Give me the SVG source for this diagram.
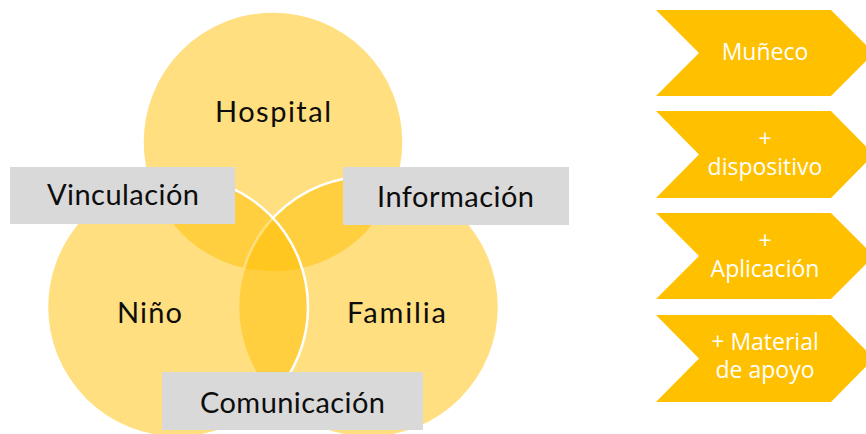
<svg xmlns="http://www.w3.org/2000/svg" width="866" height="434" viewBox="0 0 866 434">
  <style>
    .circ { fill: #FFC000; fill-opacity: 0.5; stroke: #FFFFFF; stroke-width: 2.5; }
    .box { fill: #D9D9D9; }
    .lbl { font-family: Lato, "Open Sans", sans-serif; font-size: 29px; fill: #0D0D0D; text-anchor: middle; }
    .chev { fill: #FFC000; }
    .ct { font-family: "Open Sans", "Noto Sans", sans-serif; font-size: 23px; fill: #FFFFFF; text-anchor: middle; }
  </style>
  <rect width="866" height="434" fill="#FFFFFF"/>
  <g id="venn">
    <g id="hospital">
      <circle class="circ" cx="273" cy="142" r="130.5"/>
    </g>
    <g id="familia">
      <circle class="circ" cx="368.5" cy="307" r="130.5"/>
    </g>
    <g id="nino">
      <circle class="circ" cx="177.5" cy="307" r="130.5"/>
    </g>
    <text class="lbl" x="273" y="122" textLength="116" lengthAdjust="spacing">Hospital</text>
    <text class="lbl" x="149.5" y="323" textLength="65" lengthAdjust="spacing">Niño</text>
    <text class="lbl" x="396.5" y="323" textLength="99" lengthAdjust="spacing">Familia</text>
  </g>
  <g id="vinculacion">
    <rect class="box" x="10" y="167" width="225" height="57"/>
    <text class="lbl" x="123" y="205" textLength="152" lengthAdjust="spacing">Vinculación</text>
  </g>
  <g id="informacion">
    <rect class="box" x="343" y="167" width="226" height="58"/>
    <text class="lbl" x="455.5" y="207" textLength="157" lengthAdjust="spacing">Información</text>
  </g>
  <g id="comunicacion">
    <rect class="box" x="162" y="372" width="261" height="58"/>
    <text class="lbl" x="292.5" y="413" textLength="185" lengthAdjust="spacing">Comunicación</text>
  </g>
  <g id="step1">
    <polygon class="chev" points="656,10 831,10 874,53 831,96 656,96 699,53"/>
    <text class="ct" x="765" y="60">Muñeco</text>
  </g>
  <g id="step2">
    <polygon class="chev" points="656,111 831,111 874,154.5 831,198 656,198 699,154.5"/>
    <text class="ct" x="765" y="147">+</text>
    <text class="ct" x="765" y="175">dispositivo</text>
  </g>
  <g id="step3">
    <polygon class="chev" points="656,213 831,213 874,256 831,299 656,299 699,256"/>
    <text class="ct" x="765" y="249">+</text>
    <text class="ct" x="765" y="277">Aplicación</text>
  </g>
  <g id="step4">
    <polygon class="chev" points="656,315 831,315 874,358.5 831,402 656,402 699,358.5"/>
    <text class="ct" x="765" y="350">+ Material</text>
    <text class="ct" x="765" y="378">de apoyo</text>
  </g>
</svg>
